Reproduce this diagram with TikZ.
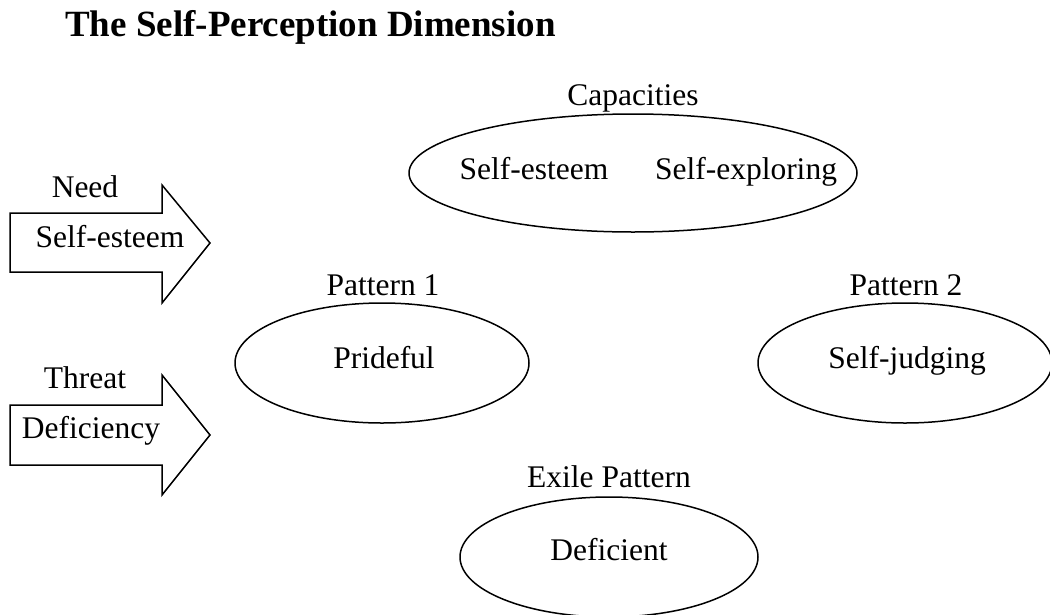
\documentclass[tikz,border=0pt]{standalone}
\usepackage{fontspec}
\setmainfont{Liberation Serif}
\usetikzlibrary{shapes.geometric}
\begin{document}
\begin{tikzpicture}[x=1pt,y=-1pt,
  every node/.style={inner sep=0pt, anchor=base, font=\fontsize{31.5}{34}\selectfont},
  oval/.style={draw, ellipse, anchor=center, line width=1.5pt, minimum width=#1},
  bigarrow/.style={draw, line width=1.5pt, line join=miter}]
\useasboundingbox (0,0) rectangle (1050,614);
\node[anchor=base west, font=\fontsize{37}{40}\selectfont\bfseries] (title) at (65,36) {The Self-Perception Dimension};
% capacities
\node[oval=448pt, minimum height=118pt] (cap) at (633,173) {};
\node (caplbl) at (633,105) {Capacities};
\node (se) at (534,179) {Self-esteem};
\node (sx) at (746,179) {Self-exploring};
% pattern 1
\node[oval=294pt, minimum height=120pt] (p1) at (382,363) {};
\node (p1txt) at (384,368) {Prideful};
\node (p1lbl) at (383,295) {Pattern 1};
% pattern 2
\node[oval=294pt, minimum height=120pt] (p2) at (905,363) {};
\node (p2txt) at (907,368) {Self-judging};
\node (p2lbl) at (906,295) {Pattern 2};
% exile
\node[oval=298pt, minimum height=120pt] (ex) at (609,557) {};
\node (extxt) at (609,560) {Deficient};
\node (exlbl) at (609,487) {Exile Pattern};
% arrows
\draw[bigarrow] (10,213) -- (162,213) -- (162,185) -- (210,243) -- (162,303) -- (162,272) -- (10,272) -- cycle;
\node (need) at (85,197) {Need};
\node (needtxt) at (110,247) {Self-esteem};
\draw[bigarrow] (10,405) -- (162,405) -- (162,375) -- (210,435) -- (162,495) -- (162,465) -- (10,465) -- cycle;
\node (threat) at (85,388) {Threat};
\node (threattxt) at (91,438) {Deficiency};
\end{tikzpicture}
\end{document}
